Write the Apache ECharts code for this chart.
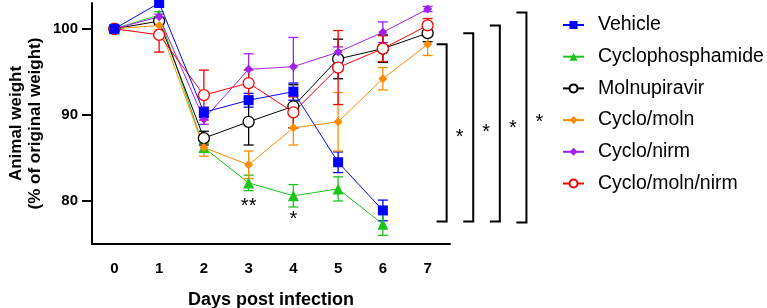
<!DOCTYPE html>
<html><head><meta charset="utf-8">
<script src="https://cdn.jsdelivr.net/npm/echarts@6/dist/echarts.min.js"></script>
<style>html,body{margin:0;padding:0;background:#fff}#c{width:767px;height:308px}</style>
</head><body><div id="c"></div>
<script>
const days = ['0','1','2','3','4','5','6','7'];
const seriesNames = ['Vehicle','Cyclophosphamide','Molnupiravir','Cyclo/moln','Cyclo/nirm','Cyclo/moln/nirm'];
const vehicle      = [100, 103.0, 90.3, 91.7, 92.7, 84.5, 78.9];
const vehicleErr   = [0, 0.4, 0.6, 0.8, 1.0, 1.2, 1.2];
const cyclo        = [100, 101.6, 86.2, 82.1, 80.6, 81.4, 77.3];
const cycloErr     = [0, 0.4, 0.5, 0.9, 1.3, 1.4, 1.3];
const molnu        = [100, 100.9, 87.3, 89.2, 91.0, 96.5, 97.7, 99.5];
const molnuErr     = [0, 0.4, 0.8, 2.7, 2.5, 2.3, 1.6, 1.0];
const cycloMoln    = [100, 100.4, 86.2, 84.2, 88.5, 89.2, 94.2, 98.2];
const cycloMolnErr = [0, 0.5, 1.0, 1.6, 2.0, 3.4, 1.3, 1.3];
const cycloNirm    = [100, 101.4, 89.5, 95.3, 95.6, 97.3, 99.6, 102.3];
const cycloNirmErr = [0, 0.3, 0.6, 1.8, 3.4, 0.6, 1.2, 0.3];
const cycloMN      = [100, 99.3, 92.3, 93.7, 90.3, 95.5, 97.7, 100.4];
const cycloMNErr   = [0, 2.0, 2.9, 1.5, 1.8, 4.3, 1.5, 0.8];
const yTicks = [80, 90, 100];
// significance annotations: bracket top values (day 7 means) vs Cyclophosphamide day 6
const bracketTops = [98.2, 99.5, 100.4, 101.9];
const bracketBottoms = [77.6, 77.6, 77.6, 77.5];
const bracketLabels = ['*', '*', '*', '*'];
const dayStars = [{day: 3, text: '**'}, {day: 4, text: '*'}];

const colors = ['#0000FF', '#1BC41B', '#000000', '#FF8C00', '#A020F0', '#FF0000'];
const symbols = ['rect', 'triangle', 'circle', 'diamond', 'diamond', 'circle'];
const sizes = [10, 11, 11, 9, 9, 11];
const hollow = [false, false, true, false, false, true];
const means = [vehicle, cyclo, molnu, cycloMoln, cycloNirm, cycloMN];
const errs = [vehicleErr, cycloErr, molnuErr, cycloMolnErr, cycloNirmErr, cycloMNErr];

const series = [];
seriesNames.forEach((name, i) => {
  series.push({
    type: 'custom', name: name + '_err', silent: true, z: 2,
    data: means[i].map((m, j) => [j, m, errs[i][j]]),
    renderItem: (params, api) => {
      const x = api.value(0), m = api.value(1), e = api.value(2);
      const top = api.coord([x, m + e]), bot = api.coord([x, m - e]);
      const st = {stroke: colors[i], lineWidth: 1.3};
      const hw = 5;
      return {type: 'group', children: [
        {type: 'line', shape: {x1: top[0], y1: top[1], x2: bot[0], y2: bot[1]}, style: st},
        {type: 'line', shape: {x1: top[0]-hw, y1: top[1], x2: top[0]+hw, y2: top[1]}, style: st},
        {type: 'line', shape: {x1: bot[0]-hw, y1: bot[1], x2: bot[0]+hw, y2: bot[1]}, style: st}
      ]};
    }
  });
});
seriesNames.forEach((name, i) => {
  series.push({
    type: 'line', name: name, data: means[i], z: i === 0 ? 5 : 3,
    symbol: symbols[i], symbolSize: sizes[i],
    lineStyle: {color: colors[i], width: 1},
    itemStyle: hollow[i] ? {color: '#fff', borderColor: colors[i], borderWidth: 1.3} : {color: colors[i], borderColor: colors[i], borderWidth: 0},
    color: colors[i],
    animation: false
  });
});
// significance brackets to the right of day 7
series.push({
  type: 'custom', name: 'brackets', silent: true, clip: false, z: 4,
  data: bracketTops.map((t, k) => [7, t, bracketBottoms[k], k]),
  renderItem: (params, api) => {
    const k = api.value(3);
    const t = api.coord([api.value(0), api.value(1)]);
    const b = api.coord([api.value(0), api.value(2)]);
    const x = t[0] + 19 + 26.6 * k;
    return {type: 'group', children: [
      {type: 'polyline', shape: {points: [[x - 10, t[1]], [x, t[1]], [x, b[1]], [x - 10, b[1]]]},
        style: {stroke: '#000', lineWidth: 2, fill: null}},
      {type: 'text', x: x + 13, y: (t[1] + b[1]) / 2 + 5,
        style: {text: bracketLabels[k], font: '20px Liberation Sans', fill: '#000', align: 'center', verticalAlign: 'middle'}}
    ]};
  }
});
series.push({
  type: 'custom', name: 'dayStars', silent: true, clip: false, z: 4,
  data: dayStars.map(s => [s.day, cyclo[s.day]]),
  renderItem: (params, api) => {
    const p = api.coord([api.value(0), api.value(1)]);
    return {type: 'text', x: p[0], y: p[1] + 24,
      style: {text: dayStars[params.dataIndex].text, font: '20px Liberation Sans', fill: '#000', align: 'center', verticalAlign: 'middle'}};
  }
});

const chart = echarts.init(document.getElementById('c'), null, {renderer: 'canvas'});
const axisFont = {fontFamily: 'Liberation Sans, Arial', fontWeight: 'bold', color: '#000'};
chart.setOption({
  animation: false,
  grid: {left: 92, right: 317, top: 3, bottom: 64, containLabel: false, outerBoundsMode: 'none'},
  legend: {
    data: seriesNames,
    orient: 'vertical', left: 562, top: 15, padding: 0, itemWidth: 21, itemHeight: 10, itemGap: 11.7,
    textStyle: {fontFamily: 'Liberation Sans, Arial', fontSize: 19.5, color: '#000', lineHeight: 20, padding: [0, 0, 0, 9]},
    selectedMode: false
  },
  xAxis: {
    type: 'category', data: days, boundaryGap: true,
    axisLine: {lineStyle: {color: '#000', width: 2}},
    axisTick: {alignWithLabel: true, length: 8, lineStyle: {color: '#000', width: 2}},
    axisLabel: Object.assign({fontSize: 15, margin: 17}, axisFont),
    name: 'Days post infection', nameLocation: 'middle', nameGap: 47,
    nameTextStyle: Object.assign({fontSize: 18}, axisFont)
  },
  yAxis: {
    type: 'value', min: 75, max: 103,
    axisLine: {show: true, lineStyle: {color: '#000', width: 2}},
    axisTick: {show: true, length: 10, customValues: yTicks, lineStyle: {color: '#000', width: 2}},
    axisLabel: Object.assign({fontSize: 15, margin: 14, customValues: yTicks}, axisFont),
    splitLine: {show: false},
    name: 'Animal weight\n(% of original weight)', nameLocation: 'middle', nameGap: 47,
    nameTextStyle: Object.assign({fontSize: 17, lineHeight: 19}, axisFont)
  },
  series: series
});
</script></body></html>
